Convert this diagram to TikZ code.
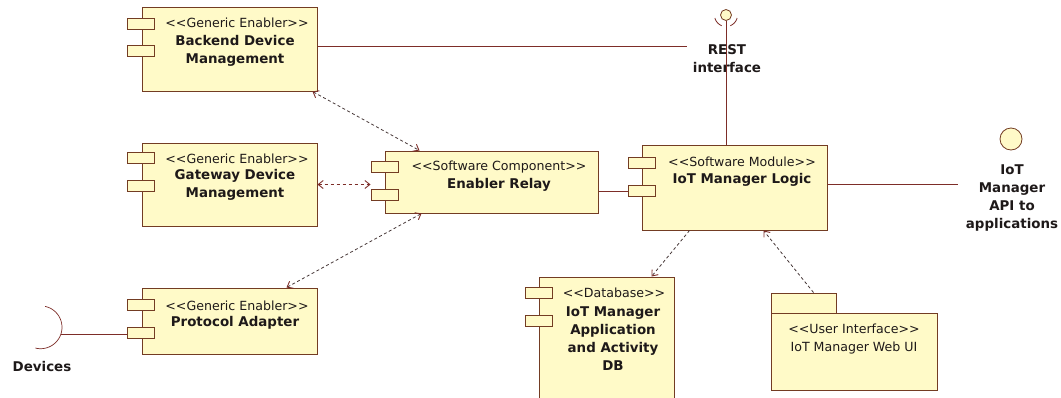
\documentclass[tikz,border=0pt]{standalone}
\usepackage{fontspec}
\setmainfont{DejaVu Sans}
\usetikzlibrary{arrows.meta}
\definecolor{fillc}{RGB}{255,250,200}
\definecolor{bord}{RGB}{115,60,35}
\definecolor{wire}{RGB}{125,45,40}
\definecolor{dep}{RGB}{70,55,55}
\definecolor{txt}{RGB}{30,25,25}
\newcommand\stL{<\kern0pt<}
\newcommand\stR{>\kern0pt>}
\tikzset{mytip/.tip={Straight Barb[length=5pt,width=8pt,color=wire,line width=0.9pt]}}
\begin{document}
\begin{tikzpicture}[x=1pt,y=-1pt,
 comp/.style={draw=bord, fill=fillc, line width=1pt, inner sep=0pt, rectangle},
 port/.style={draw=bord, fill=fillc, line width=0.9pt, inner sep=0pt, rectangle, minimum width=27pt, minimum height=11pt},
 stereo/.style={text=txt, font=\fontsize{12.6}{18}\selectfont, inner sep=0pt, align=center},
 cname/.style={text=txt, font=\fontsize{13.4}{18}\selectfont\bfseries, inner sep=0pt, align=center},
 wireline/.style={draw=wire, line width=0.9pt},
 depline/.style={draw=dep, line width=0.8pt, dash pattern=on 3pt off 2.5pt},
 deptwo/.style={depline, {mytip}-{mytip}},
 depone/.style={depline, -{mytip}},
 depthick/.style={draw=wire, line width=1.6pt, dash pattern=on 3pt off 3pt, {mytip}-{mytip}},
]
\useasboundingbox (0,0) rectangle (1061,397);

% Backend Device Management
\node[comp, minimum width=175pt, minimum height=84pt] (bdm) at (229.5,49) {};
\node[port] (bdmp1) at (141,23.5) {};
\node[port] (bdmp2) at (141,50.5) {};
\node[stereo] (bdms) at (237,23) {\stL Generic Enabler\stR};
\node[cname] (bdmn) at (235,51) {Backend Device\\Management};

% Gateway Device Management
\node[comp, minimum width=175pt, minimum height=83pt] (gdm) at (229.5,184.5) {};
\node[port] (gdmp1) at (141,157.5) {};
\node[port] (gdmp2) at (141,186) {};
\node[stereo] (gdms) at (237,159) {\stL Generic Enabler\stR};
\node[cname] (gdmn) at (235,185) {Gateway Device\\Management};

% Protocol Adapter
\node[comp, minimum width=175pt, minimum height=66pt] (pa) at (229.5,321) {};
\node[port] (pap1) at (141,305) {};
\node[port] (pap2) at (141,333) {};
\node[stereo] (pas) at (237,306) {\stL Generic Enabler\stR};
\node[cname] (pan) at (235,323) {Protocol Adapter};

% Devices socket
\coordinate (dev) at (61,334);
\draw[wireline, line width=0.7pt] plot[domain=-78:104, samples=40] ({40.6+21.4*cos(\x)},{327.3+21.4*sin(\x)});
\node[cname] (devn) at (42,366) {Devices};

% Enabler Relay
\node[comp, minimum width=213pt, minimum height=62pt] (er) at (491.5,182) {};
\node[port] (erp1) at (384.5,167) {};
\node[port] (erp2) at (384.5,195) {};
\node[stereo] (ers) at (499,167) {\stL Software Component\stR};
\node[cname] (ern) at (499,185) {Enabler Relay};

% IoT Manager Logic
\node[comp, minimum width=185pt, minimum height=85pt] (iml) at (734.5,187.5) {};
\node[port] (imlp1) at (642,162.5) {};
\node[port] (imlp2) at (642,191) {};
\node[stereo] (imls) at (742,162) {\stL Software Module\stR};
\node[cname] (imln) at (742,180) {IoT Manager Logic};

% Database
\begin{scope}
\clip (0,0) rectangle (1061,397);
\node[comp, minimum width=135pt, minimum height=130pt] (db) at (606.5,342) {};
\end{scope}
\node[port] (dbp1) at (538.5,293) {};
\node[port] (dbp2) at (538.5,321) {};
\node[stereo] (dbs) at (614,293) {\stL Database\stR};
\node[cname] (dbn) at (613,338.5) {IoT Manager\\Application\\and Activity\\DB};

% User Interface package
\node[comp, minimum width=65pt, minimum height=20pt] (uitab) at (803.5,303) {};
\node[comp, minimum width=166pt, minimum height=77pt] (ui) at (854,351.5) {};
\node[stereo] (uis) at (854,339.5) {\stL User Interface\stR\\IoT Manager Web UI};

% REST interface
\node[cname] (restn) at (727,59) {REST\\interface};
\node[draw=bord, fill=fillc, line width=0.8pt, circle, inner sep=0pt, minimum size=11pt] (restc) at (726,15) {};
\draw[wireline, line width=0.8pt] plot[domain=112:165, samples=15] ({726+11.5*cos(\x)},{15+11.5*sin(\x)});
\draw[wireline, line width=0.8pt] plot[domain=15:68, samples=15] ({726+11.5*cos(\x)},{15+11.5*sin(\x)});
\draw[wireline] (restc.south) -- (restc.south |- iml.north);
\coordinate (restl) at (687,46);
\draw[wireline] (restl -| bdm.east) -- (restl);

% API lollipop
\node[draw=bord, fill=fillc, line width=0.8pt, circle, inner sep=0pt, minimum size=22pt] (apic) at (1011,139) {};
\node[cname] (apin) at (1012,198.5) {IoT\\Manager\\API to\\applications};
\coordinate (apil) at (958,184);
\draw[wireline] (apil -| iml.east) -- (apil);

% solid connectors
\draw[wireline] (imlp2.west -| er.east) -- (imlp2.west);
\draw[wireline] (dev) -- (dev -| pap2.west);

% dependencies
\draw[deptwo] ([xshift=-5pt]bdm.south east) -- ([xshift=35pt]er.north west);
\draw[depthick] (gdm.east) -- (gdm.east -| erp1.west);
\draw[deptwo] ([xshift=145pt]pa.north west) -- ([xshift=37pt]er.south west);
\draw[depone] ([xshift=48pt]iml.south west) -- ([xshift=113pt]db.north west);
\draw[depone] ([xshift=10pt]uitab.north) -- ([xshift=122pt]iml.south west);
\end{tikzpicture}
\end{document}
